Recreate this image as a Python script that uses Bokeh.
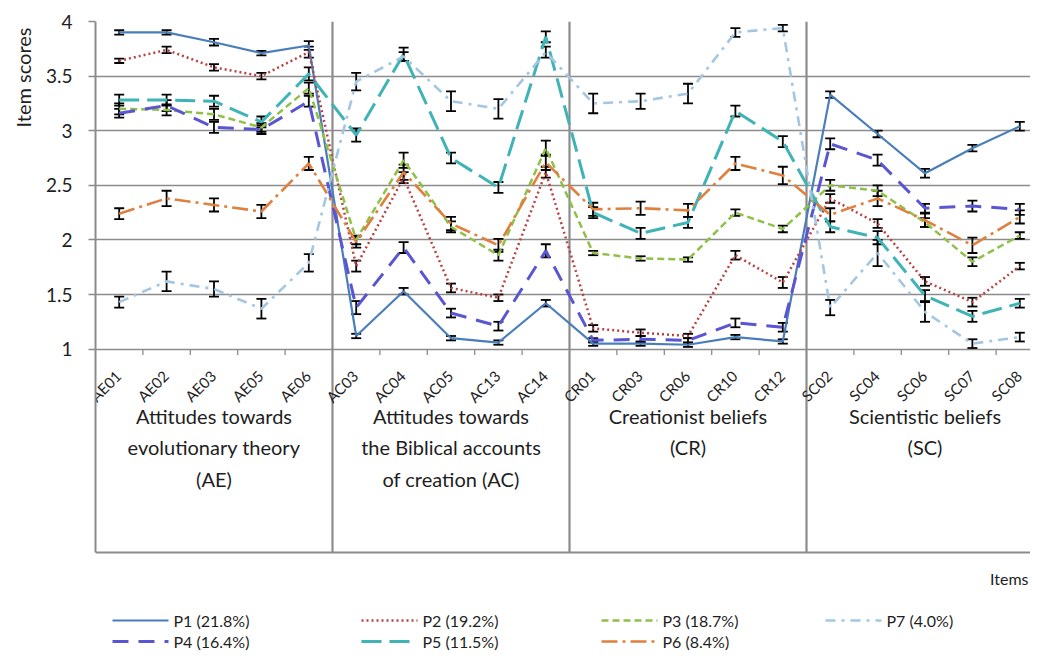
from bokeh.plotting import figure
from bokeh.models import FixedTicker, Whisker, TeeHead, ColumnDataSource, Title
from bokeh.core.properties import value
from bokeh.embed import file_html
from bokeh.resources import INLINE

# ---------------- data ----------------
items = ["AE01", "AE02", "AE03", "AE05", "AE06",
         "AC03", "AC04", "AC05", "AC13", "AC14",
         "CR01", "CR03", "CR06", "CR10", "CR12",
         "SC02", "SC04", "SC06", "SC07", "SC08"]

group_labels = ["Attitudes towards\nevolutionary theory\n(AE)",
                "Attitudes towards\nthe Biblical accounts\nof creation (AC)",
                "Creationist beliefs\n(CR)",
                "Scientistic beliefs\n(SC)"]
group_sizes = [5, 5, 5, 5]

series_names = ["P1", "P2", "P3", "P4", "P5", "P6", "P7"]
series_labels = ["P1 (21.8%)", "P2 (19.2%)", "P3 (18.7%)", "P4 (16.4%)",
                 "P5 (11.5%)", "P6 (8.4%)", "P7 (4.0%)"]

P1 = [3.90, 3.90, 3.81, 3.71, 3.78, 1.12, 1.53, 1.10, 1.06, 1.42,
      1.05, 1.05, 1.04, 1.11, 1.07, 3.33, 2.97, 2.61, 2.84, 3.04]
P2 = [3.64, 3.74, 3.58, 3.50, 3.72, 1.76, 2.57, 1.56, 1.47, 2.62,
      1.19, 1.15, 1.12, 1.86, 1.61, 2.38, 2.15, 1.62, 1.43, 1.76]
P3 = [3.20, 3.19, 3.15, 3.03, 3.39, 2.00, 2.73, 2.12, 1.86, 2.84,
      1.88, 1.83, 1.82, 2.25, 2.10, 2.50, 2.45, 2.16, 1.80, 2.04]
P4 = [3.16, 3.23, 3.03, 3.01, 3.27, 1.38, 1.93, 1.33, 1.21, 1.90,
      1.08, 1.09, 1.08, 1.24, 1.20, 2.88, 2.73, 2.29, 2.31, 2.28]
P5 = [3.28, 3.28, 3.27, 3.08, 3.52, 2.96, 3.70, 2.75, 2.48, 3.86,
      2.25, 2.06, 2.16, 3.18, 2.90, 2.12, 2.02, 1.49, 1.30, 1.42]
P6 = [2.24, 2.38, 2.32, 2.26, 2.70, 1.98, 2.62, 2.15, 1.95, 2.71,
      2.28, 2.29, 2.27, 2.70, 2.59, 2.23, 2.38, 2.18, 1.95, 2.21]
P7 = [1.43, 1.62, 1.55, 1.37, 1.79, 3.45, 3.68, 3.27, 3.20, 3.72,
      3.25, 3.27, 3.34, 3.90, 3.94, 1.38, 1.88, 1.34, 1.05, 1.11]

E1 = [0.02, 0.02, 0.03, 0.02, 0.04, 0.02, 0.03, 0.02, 0.02, 0.03,
      0.02, 0.02, 0.02, 0.02, 0.02, 0.03, 0.03, 0.04, 0.03, 0.04]
E2 = [0.02, 0.03, 0.03, 0.03, 0.05, 0.05, 0.05, 0.04, 0.03, 0.05,
      0.03, 0.03, 0.02, 0.04, 0.05, 0.04, 0.04, 0.04, 0.04, 0.03]
E3 = [0.05, 0.05, 0.05, 0.04, 0.05, 0.04, 0.07, 0.05, 0.05, 0.07,
      0.02, 0.02, 0.02, 0.03, 0.03, 0.05, 0.05, 0.04, 0.04, 0.03]
E4 = [0.04, 0.05, 0.05, 0.04, 0.05, 0.06, 0.05, 0.04, 0.04, 0.06,
      0.02, 0.03, 0.02, 0.04, 0.04, 0.05, 0.05, 0.04, 0.05, 0.05]
E5 = [0.05, 0.05, 0.05, 0.05, 0.06, 0.06, 0.06, 0.05, 0.05, 0.05,
      0.05, 0.05, 0.05, 0.05, 0.05, 0.05, 0.06, 0.05, 0.05, 0.04]
E6 = [0.05, 0.07, 0.06, 0.06, 0.06, 0.05, 0.07, 0.06, 0.06, 0.07,
      0.06, 0.06, 0.06, 0.06, 0.08, 0.06, 0.07, 0.06, 0.07, 0.06]
E7 = [0.05, 0.09, 0.07, 0.09, 0.08, 0.08, 0.04, 0.09, 0.09, 0.05,
      0.09, 0.07, 0.09, 0.04, 0.03, 0.07, 0.12, 0.09, 0.04, 0.04]

values = [P1, P2, P3, P4, P5, P6, P7]
errors = [E1, E2, E3, E4, E5, E6, E7]

y_ticks = [1, 1.5, 2, 2.5, 3, 3.5, 4]
y_tick_text = ["1", "1.5", "2", "2.5", "3", "3.5", "4"]

# ---------------- styles ----------------
colors = ["#4A7EBB", "#B94343", "#8FC048", "#5A55D0", "#3FB3B6", "#E0803E", "#A3C7E3"]
dashes = ["solid", "2 3", "7 4", "16 10", "20 8", "16 5 3 5", "10 6 3 6"]
widths = [2.2, 2.5, 2.5, 3.0, 3.0, 2.6, 2.6]
FONT = "Lato"
TXT = "#1e1e1e"
GRID = "#8C8C8C"

# ---------------- geometry (page pixels) ----------------
W, H = 1030, 652
LEFT, TOP = 95, 21
PX_X = 47.4                   # px per item
PX_Y = 109.2                  # px per unit score
frame_w = W - LEFT
frame_h = H - TOP
x_end = frame_w / PX_X
y_top = 4.0
y_bot = y_top - frame_h / PX_Y


def dx(img_x):  # page pixel -> data x
    return (img_x - LEFT) / PX_X


def dy(img_y):  # page pixel -> data y
    return y_top - (img_y - TOP) / PX_Y


box_bottom = dy(552)

p = figure(width=W, height=H, x_range=(0, x_end), y_range=(y_bot, y_top),
           output_backend="svg", toolbar_location=None, x_axis_location=None,
           min_border_left=LEFT, min_border_top=TOP, min_border_right=0,
           min_border_bottom=0)
p.outline_line_color = None
p.background_fill_color = "white"
p.xgrid.visible = False

ax = p.yaxis[0]
ax.ticker = FixedTicker(ticks=y_ticks)
ax.major_label_overrides = {t: s for t, s in zip(y_ticks, y_tick_text)}
ax.bounds = (box_bottom, y_top)
ax.axis_line_color = GRID
ax.axis_line_width = 2
ax.major_tick_line_color = GRID
ax.major_tick_line_width = 1.5
ax.major_tick_out = 7
ax.major_tick_in = 0
ax.minor_tick_line_color = None
ax.major_label_standoff = 16
ax.major_label_text_font = FONT
ax.major_label_text_font_size = "19px"
ax.major_label_text_color = TXT
p.ygrid.ticker = FixedTicker(ticks=y_ticks)
p.ygrid.grid_line_color = GRID
p.ygrid.grid_line_width = 1.6

p.add_layout(Title(text="Item scores", align="right", offset=6, standoff=15,
                   text_font=FONT, text_font_size="20px", text_font_style="normal",
                   text_color=TXT), "left")

xs = [i + 0.5 for i in range(len(items))]

# group separators and category box
bounds = [0]
for g in group_sizes:
    bounds.append(bounds[-1] + g)
sep_x = bounds[1:-1]
p.segment(x0=sep_x, y0=[box_bottom] * len(sep_x), x1=sep_x, y1=[y_top] * len(sep_x),
          line_color=GRID, line_width=2.2)
p.segment(x0=[0], y0=[box_bottom], x1=[x_end], y1=[box_bottom], line_color=GRID, line_width=2)
tick_x = [i for i in range(1, len(items)) if i not in sep_x]
tick_len = 6 / PX_Y
p.segment(x0=tick_x, y0=[1] * len(tick_x), x1=tick_x, y1=[1 - tick_len] * len(tick_x),
          line_color=GRID, line_width=1.3)

# item labels (rotated)
p.text(x=[x - 0.02 for x in xs], y=[1 - 24 / PX_Y] * len(xs), text=items, angle=0.785398,
       text_align="right", text_baseline="middle", text_font=value(FONT),
       text_font_size="15px", text_color=TXT)

# group labels
gx = [(bounds[i] + bounds[i + 1]) / 2 for i in range(len(group_sizes))]
p.text(x=gx, y=[dy(403)] * len(gx), text=group_labels, text_align="center",
       text_baseline="top", text_font=value(FONT), text_font_size="20px",
       text_color=TXT, text_line_height=1.32)

# series lines
for vals, c, d, w in zip(values, colors, dashes, widths):
    p.line(xs, vals, line_color=c, line_dash=d, line_width=w)

# error bars
for vals, errs in zip(values, errors):
    src = ColumnDataSource(dict(x=xs, lo=[v - e for v, e in zip(vals, errs)],
                                hi=[v + e for v, e in zip(vals, errs)]))
    wk = Whisker(source=src, base="x", lower="lo", upper="hi", dimension="height",
                 line_color="black", line_width=1.8,
                 lower_head=TeeHead(size=10, line_color="black", line_width=1.8),
                 upper_head=TeeHead(size=10, line_color="black", line_width=1.8))
    p.add_layout(wk)

p.text(x=[dx(1028)], y=[dy(578)], text=["Items"], text_align="right", text_baseline="middle",
       text_font=value(FONT), text_font_size="16px", text_color=TXT)

# legend (Excel order: row 1 P1 P2 P3 P7, row 2 P4 P5 P6)
legend_rows = [[0, 1, 2, 6], [3, 4, 5]]
col_x = [112, 361, 601, 825]
row_y = [620, 641]
for r, row in enumerate(legend_rows):
    for c, si in enumerate(row):
        x0 = dx(col_x[c])
        x1 = dx(col_x[c] + 56)
        y = dy(row_y[r])
        p.line([x0, x1], [y, y], line_color=colors[si], line_dash=dashes[si],
               line_width=widths[si])
        p.text(x=[dx(col_x[c] + 61)], y=[y], text=[series_labels[si]], text_align="left",
               text_baseline="middle", text_font=value(FONT), text_font_size="16px",
               text_color=TXT)

open("out.html", "w").write(file_html(p, INLINE))
